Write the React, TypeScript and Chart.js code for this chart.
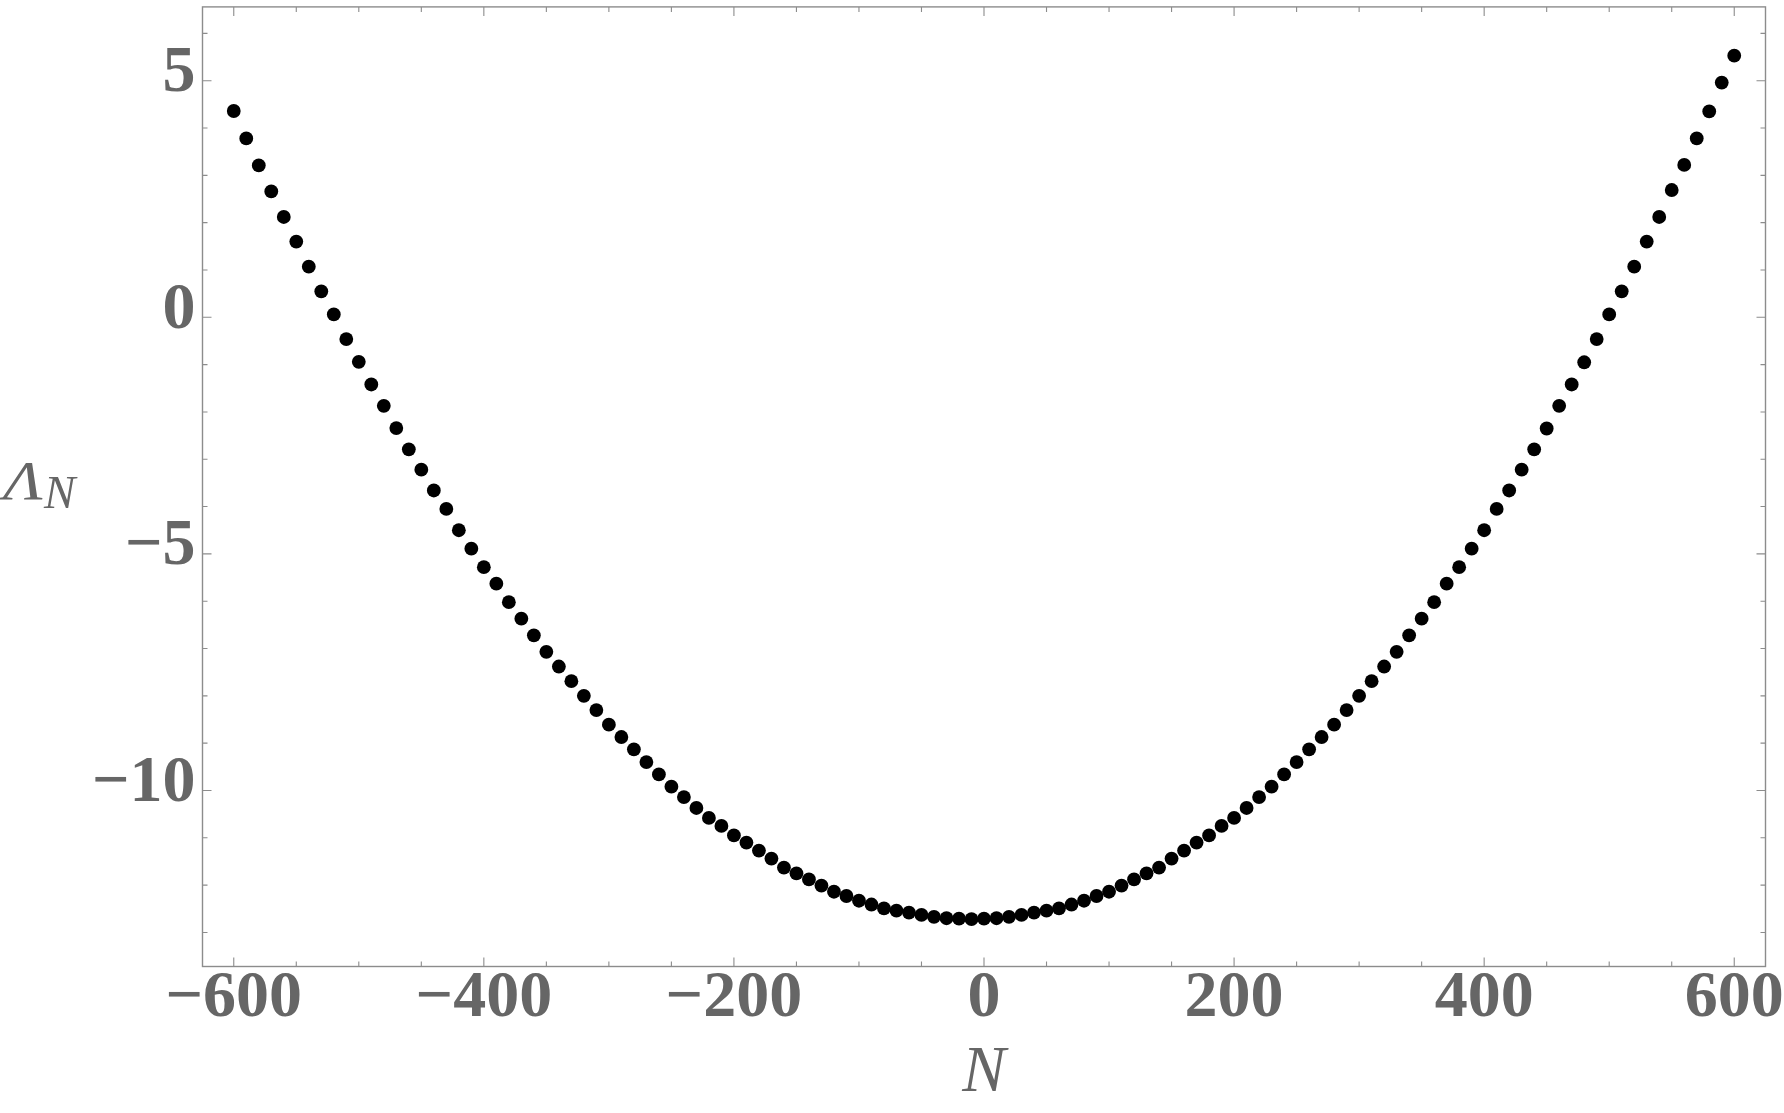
import React, { useEffect, useRef } from "react";
import { Chart, registerables } from "chart.js";

Chart.register(...registerables);

// ---- data ----
const N_VALUES = [
  -600, -590, -580, -570, -560, -550, -540, -530, -520, -510,
  -500, -490, -480, -470, -460, -450, -440, -430, -420, -410,
  -400, -390, -380, -370, -360, -350, -340, -330, -320, -310,
  -300, -290, -280, -270, -260, -250, -240, -230, -220, -210,
  -200, -190, -180, -170, -160, -150, -140, -130, -120, -110,
  -100, -90, -80, -70, -60, -50, -40, -30, -20, -10,
  0, 10, 20, 30, 40, 50, 60, 70, 80, 90,
  100, 110, 120, 130, 140, 150, 160, 170, 180, 190,
  200, 210, 220, 230, 240, 250, 260, 270, 280, 290,
  300, 310, 320, 330, 340, 350, 360, 370, 380, 390,
  400, 410, 420, 430, 440, 450, 460, 470, 480, 490,
  500, 510, 520, 530, 540, 550, 560, 570, 580, 590,
  600,
];

const LAMBDA_VALUES = [
  4.36, 3.78, 3.21, 2.66, 2.12, 1.6, 1.07, 0.55, 0.06, -0.46,
  -0.94, -1.42, -1.87, -2.34, -2.79, -3.22, -3.66, -4.05, -4.5, -4.89,
  -5.28, -5.63, -6.02, -6.37, -6.72, -7.07, -7.38, -7.69, -8.0, -8.3,
  -8.61, -8.87, -9.13, -9.4, -9.66, -9.92, -10.14, -10.37, -10.58, -10.75,
  -10.95, -11.1, -11.27, -11.44, -11.63, -11.75, -11.88, -12.01, -12.14, -12.23,
  -12.33, -12.41, -12.49, -12.54, -12.58, -12.63, -12.67, -12.7, -12.71, -12.72,
  -12.71, -12.7, -12.67, -12.63, -12.58, -12.54, -12.49, -12.41, -12.33, -12.23,
  -12.14, -12.01, -11.88, -11.75, -11.63, -11.44, -11.27, -11.1, -10.95, -10.75,
  -10.58, -10.37, -10.14, -9.92, -9.66, -9.4, -9.13, -8.87, -8.61, -8.3,
  -8.0, -7.69, -7.38, -7.07, -6.72, -6.37, -6.02, -5.63, -5.28, -4.89,
  -4.5, -4.05, -3.66, -3.22, -2.79, -2.35, -1.87, -1.42, -0.95, -0.46,
  0.06, 0.55, 1.07, 1.6, 2.12, 2.69, 3.22, 3.78, 4.35, 4.96,
  5.53,
];

const X_TICKS = [-600, -400, -200, 0, 200, 400, 600];
const Y_TICKS = [-10, -5, 0, 5];
const X_MINOR_TICKS = [
  -600, -550, -500, -450, -400, -350, -300, -250, -200, -150, -100, -50,
  0, 50, 100, 150, 200, 250, 300, 350, 400, 450, 500, 550, 600,
];
const Y_MINOR_TICKS = [
  -13, -12, -11, -10, -9, -8, -7, -6, -5, -4, -3, -2, -1, 0, 1, 2, 3, 4, 5, 6,
];
const X_MIN = -625;
const X_MAX = 625;
const Y_MIN = -13.72;
const Y_MAX = 6.56;

const X_TITLE = "N";
const Y_TITLE_MAIN = "Λ";
const Y_TITLE_SUB = "N";

// ---- styles ----
const W = 1784;
const H = 1113;
const LABEL_COLOR = "#666666";
const FRAME_COLOR = "#8c8c8c";
const SERIF = '"Liberation Serif", "Times New Roman", serif';
const TICK_FONT_SIZE = 66;

const fmt = (v: number | string) => String(v).replace("-", "\u2212");

const framePlugin = {
  id: "mmaFrame",
  afterDraw(chart: any) {
    const { ctx, chartArea: a, scales } = chart;
    const xs = scales.x;
    const ys = scales.y;
    ctx.save();
    ctx.strokeStyle = FRAME_COLOR;
    ctx.lineWidth = 1.4;
    ctx.strokeRect(a.left, a.top, a.right - a.left, a.bottom - a.top);
    ctx.lineWidth = 1.1;
    ctx.beginPath();
    for (const v of X_MINOR_TICKS) {
      const len = X_TICKS.includes(v) ? 9 : 5;
      const px = xs.getPixelForValue(v);
      ctx.moveTo(px, a.bottom);
      ctx.lineTo(px, a.bottom - len);
      ctx.moveTo(px, a.top);
      ctx.lineTo(px, a.top + len);
    }
    for (const v of Y_MINOR_TICKS) {
      const len = Y_TICKS.includes(v) ? 9 : 5;
      const py = ys.getPixelForValue(v);
      ctx.moveTo(a.left, py);
      ctx.lineTo(a.left + len, py);
      ctx.moveTo(a.right, py);
      ctx.lineTo(a.right - len, py);
    }
    ctx.stroke();

    // horizontal y-axis title  Λ_N
    ctx.fillStyle = LABEL_COLOR;
    ctx.textAlign = "left";
    ctx.textBaseline = "alphabetic";
    ctx.save();
    ctx.translate(3, 499);
    ctx.scale(1.2, 1);
    ctx.font = `italic 55px ${SERIF}`;
    ctx.fillText(Y_TITLE_MAIN, 0, 0);
    ctx.restore();
    ctx.font = `italic 47px ${SERIF}`;
    ctx.fillText(Y_TITLE_SUB, 44, 508);
    ctx.restore();
  },
};

export default function App() {
  const canvasRef = useRef<HTMLCanvasElement | null>(null);

  useEffect(() => {
    const canvas = canvasRef.current;
    if (!canvas) return;
    const points = N_VALUES.map((n, i) => ({ x: n, y: LAMBDA_VALUES[i] }));
    const chart = new Chart(canvas, {
      type: "scatter",
      data: {
        datasets: [
          {
            data: points,
            backgroundColor: "#000000",
            borderWidth: 0,
            pointRadius: 6.9,
            pointHoverRadius: 6.9,
          },
        ],
      },
      options: {
        animation: false,
        responsive: false,
        maintainAspectRatio: false,
        devicePixelRatio: 1,
        layout: { padding: { top: 1, right: 18.5, bottom: 0, left: 0 } },
        plugins: {
          legend: { display: false },
          tooltip: { enabled: false },
        },
        scales: {
          x: {
            type: "linear",
            position: "bottom",
            min: X_MIN,
            max: X_MAX,
            grid: { display: false, drawTicks: false },
            border: { display: false },
            afterBuildTicks: (scale: any) => {
              scale.ticks = X_TICKS.map((v) => ({ value: v }));
            },
            afterFit: (scale: any) => {
              scale.height = H - 966.5;
              scale.paddingLeft = 0;
              scale.paddingRight = 0;
            },
            ticks: {
              autoSkip: false,
              maxRotation: 0,
              minRotation: 0,
              padding: -1,
              color: LABEL_COLOR,
              font: { family: SERIF, size: TICK_FONT_SIZE, weight: "bold", lineHeight: 1 },
              callback: (v: any) => fmt(v),
            },
            title: {
              display: true,
              text: X_TITLE,
              color: LABEL_COLOR,
              font: { family: SERIF, size: 65, style: "italic", lineHeight: 1 },
              padding: { top: 0, bottom: 6.5 },
            },
          },
          y: {
            type: "linear",
            position: "left",
            min: Y_MIN,
            max: Y_MAX,
            grid: { display: false, drawTicks: false },
            border: { display: false },
            afterBuildTicks: (scale: any) => {
              scale.ticks = Y_TICKS.map((v) => ({ value: v }));
            },
            afterFit: (scale: any) => {
              scale.width = 202.5;
              scale.paddingTop = 0;
              scale.paddingBottom = 0;
            },
            ticks: {
              autoSkip: false,
              padding: 7,
              labelOffset: -6.6,
              color: LABEL_COLOR,
              font: { family: SERIF, size: TICK_FONT_SIZE, weight: "bold", lineHeight: 1 },
              callback: (v: any) => fmt(v),
            },
          },
        },
      },
      plugins: [framePlugin],
    } as any);
    return () => chart.destroy();
  }, []);

  return (
    <div
      style={{
        position: "fixed",
        left: 0,
        top: 0,
        width: W,
        height: H,
        background: "#ffffff",
      }}
    >
      <canvas
        ref={canvasRef}
        width={W}
        height={H}
        style={{ width: W, height: H, display: "block" }}
      />
    </div>
  );
}
